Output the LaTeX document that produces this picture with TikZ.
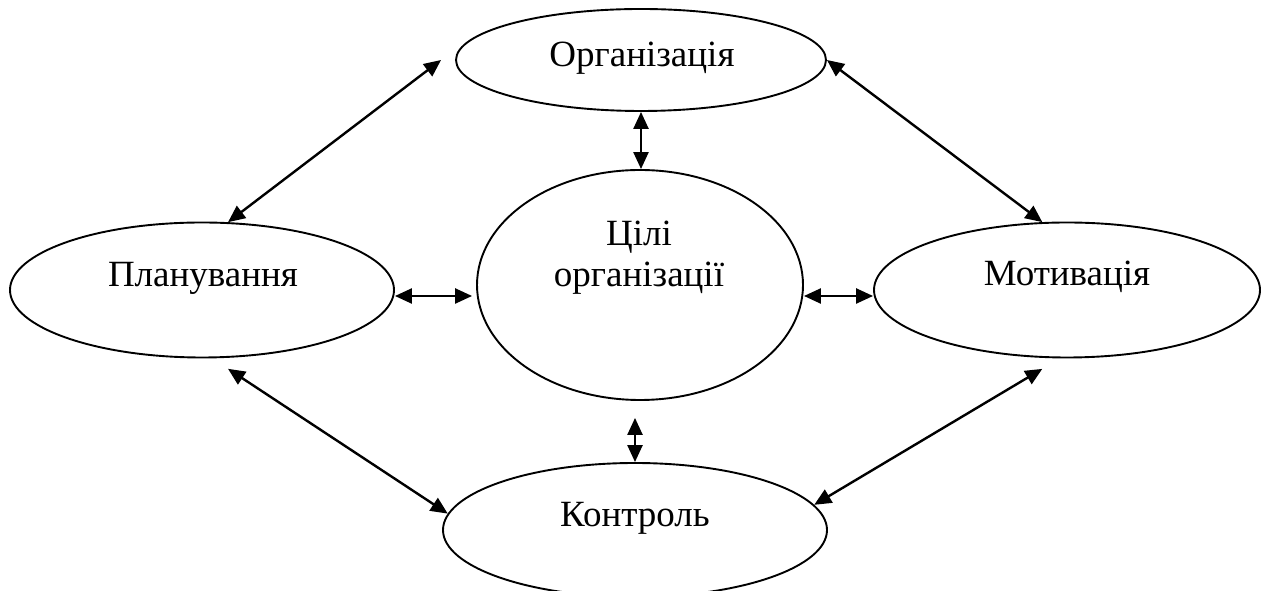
\documentclass[tikz,border=0pt]{standalone}
\usepackage{fontspec}
\setmainfont{Liberation Serif}
\usetikzlibrary{arrows.meta, shapes.geometric}
\tikzset{
  oval/.style={draw, ellipse, line width=1.9pt, inner sep=0pt},
  word/.style={anchor=base, font=\fontsize{37}{41}\selectfont},
  link/.style={line width=2.4pt, {Triangle[length=17pt, width=15pt]}-{Triangle[length=17pt, width=15pt]}},
}
\begin{document}
\begin{tikzpicture}[x=1pt, y=1pt]
  \useasboundingbox (0, 0) rectangle (1261, 591);

  % ellipses
  \node[oval, minimum width=370, minimum height=102] (o) at (641, 531) {};
  \node[oval, minimum width=326, minimum height=230] (g) at (640, 306) {};
  \node[oval, minimum width=384, minimum height=135] (p) at (202, 301) {};
  \node[oval, minimum width=386, minimum height=135] (m) at (1067, 301) {};
  \node[oval, minimum width=384, minimum height=134] (k) at (635, 61) {};

  % texts
  \node[word] (o-t) at (642, 524) {Організація};
  \node[word] (g-t1) at (639, 345) {Цілі};
  \node[word] (g-t2) at (639, 304) {організації};
  \node[word] (p-t) at (203, 304) {Планування};
  \node[word] (m-t) at (1067, 305) {Мотивація};
  \node[word] (k-t) at (635, 64) {Контроль};

  % links around
  \draw[link] ([xshift=-14]o.west) -- (p.69);
  \draw[link] (o.east) -- (m.110);
  \draw[link] ([yshift=-11]p.291) -- (k.175);
  \draw[link] ([yshift=-11]m.250) -- (k.8);

  % links to the centre
  \draw[link] ([yshift=-6]p.east) -- ([xshift=-4, yshift=-6]p.east -| g.west);
  \draw[link] ([yshift=-6]m.west -| g.east) -- ([yshift=-6]m.west);
  \draw[link] (o.south) -- (o.south |- g.north);
  \draw[link] ([yshift=-17]g.south -| k.north) -- (k.north);
\end{tikzpicture}
\end{document}
